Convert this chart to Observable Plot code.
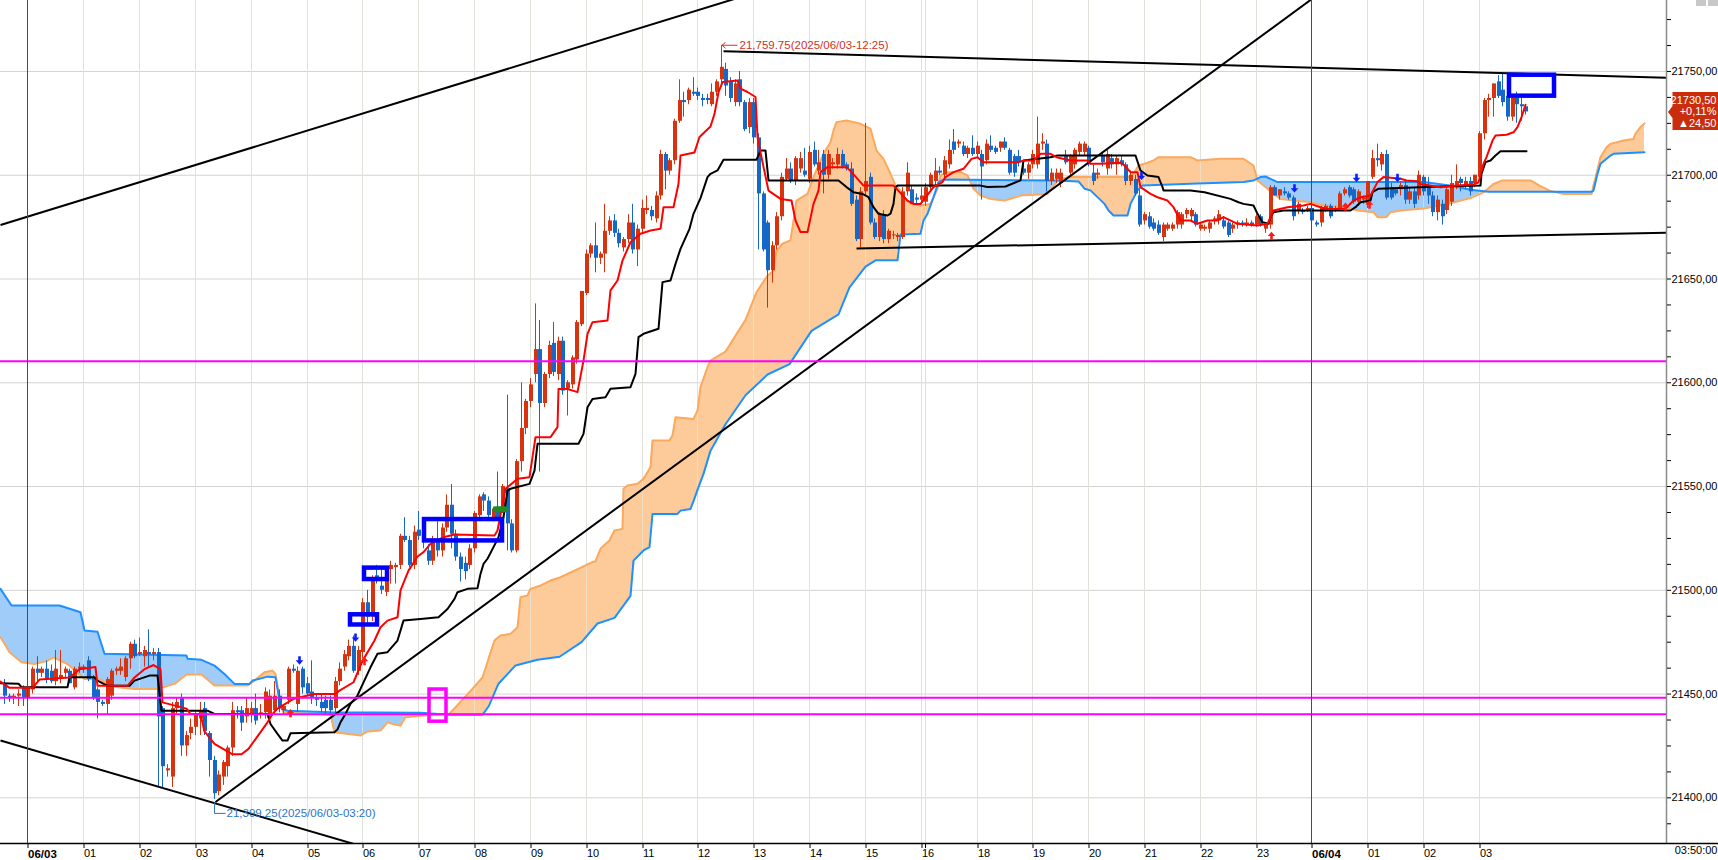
<!DOCTYPE html>
<html><head><meta charset="utf-8">
<script src="https://cdn.jsdelivr.net/npm/d3@7"></script>
<script src="https://cdn.jsdelivr.net/npm/@observablehq/plot@0.6"></script>
<style>
body{margin:0;background:#fff;}
#chart{position:relative;width:1718px;height:860px;overflow:hidden;background:#fff;}
.ico{position:absolute;top:0;width:10px;height:6px;background:#c8c8c8;}
</style></head><body><div id="chart"></div>
<script>
// ---------- candles (5-minute bars, index 0 = 06/03 00:00) ----------
const FIRST = -5;
const opens = [
21455,21449,21448,21449,21453,
21448,21452,21462,21460,21462,21461,21456,21457,21460,21461,21453,21462,
21462,21466,21458,21452,21446,21445,21449,21461,21461,21458,21467,21474,
21469,21468,21470,21469,21470,21443,21413,21410,21443,21448,21425,21431,
21434,21438,21443,21431,21418,21403,21410,21415,21424,21442,21442,21439,
21440,21443,21440,21441,21440,21442,21449,21442,21447,21462,21445,21462,
21455,21451,21448,21446,21447,21447,21443,21456,21463,21468,21473,21461,
21470,21494,21487,21507,21502,21499,21510,21511,21512,21526,21524,21512,
21529,21524,21519,21514,21523,21519,21530,21541,21527,21516,21513,21512,
21520,21536,21546,21543,21535,21539,21539,21549,21532,21519,21562,21578,
21591,21604,21616,21590,21604,21619,21604,21620,21597,21599,21611,21628,
21643,21662,21666,21660,21662,21673,21678,21672,21665,21669,21677,21664,
21674,21683,21683,21679,21690,21710,21702,21707,21726,21736,21736,21740,
21740,21737,21737,21734,21740,21746,21751,21745,21735,21746,21735,21723,
21735,21718,21691,21677,21654,21666,21680,21698,21703,21697,21703,21702,
21698,21712,21702,21710,21700,21705,21705,21710,21705,21703,21688,21669,
21692,21699,21677,21670,21681,21669,21671,21670,21670,21692,21693,21689,
21688,21687,21694,21697,21702,21700,21705,21716,21715,21714,21710,21713,
21710,21710,21707,21714,21713,21713,21716,21712,21709,21709,21703,21701,
21705,21705,21715,21715,21697,21698,21696,21709,21701,21705,21711,21711,
21713,21701,21700,21709,21703,21708,21705,21707,21705,21697,21698,21690,
21678,21680,21677,21676,21670,21674,21674,21676,21676,21681,21680,21681,
21674,21674,21674,21678,21678,21678,21677,21674,21676,21677,21676,21677,
21676,21680,21674,21676,21694,21690,21692,21691,21689,21683,21683,21683,
21684,21677,21677,21683,21685,21683,21684,21691,21694,21693,21687,21688,
21686,21699,21708,21705,21710,21694,21693,21693,21695,21688,21692,21690,
21699,21694,21690,21682,21686,21683,21687,21695,21698,21695,21697,21696,
21699,21720,21736,21737,21745,21741,21738,21728,21737,21734,21733];
const highs = [
21457,21450,21450,21452,21454,
21456,21463,21468,21463,21466,21464,21471,21471,21463,21462,21463,21465,
21464,21468,21459,21453,21447,21458,21462,21463,21467,21468,21475,21476,
21477,21473,21481,21472,21472,21444,21416,21446,21448,21450,21432,21438,
21442,21446,21446,21432,21420,21413,21418,21425,21446,21444,21444,21448,
21446,21450,21445,21453,21452,21456,21452,21445,21463,21464,21463,21463,
21458,21466,21450,21450,21449,21449,21458,21465,21471,21476,21478,21473,
21496,21500,21507,21512,21510,21508,21514,21513,21527,21535,21526,21531,
21538,21530,21522,21526,21533,21532,21546,21551,21529,21518,21516,21522,
21538,21546,21547,21545,21540,21557,21551,21594,21534,21563,21600,21592,
21602,21638,21630,21605,21620,21629,21622,21622,21601,21613,21630,21644,
21664,21667,21677,21663,21686,21680,21681,21674,21670,21681,21686,21676,
21688,21690,21685,21692,21712,21711,21708,21727,21746,21740,21742,21747,
21742,21739,21739,21744,21746,21759.75,21754,21747,21746,21750,21736,21737,
21737,21720,21692,21678,21668,21682,21701,21708,21706,21709,21711,21713,
21714,21716,21712,21712,21712,21708,21713,21712,21706,21706,21690,21694,
21725,21701,21679,21682,21683,21674,21673,21672,21694,21706,21695,21691,
21694,21696,21701,21708,21704,21709,21717,21722,21717,21716,21714,21719,
21716,21712,21717,21719,21714,21716,21718,21713,21710,21712,21707,21706,
21712,21728,21720,21717,21703,21703,21703,21712,21710,21713,21716,21716,
21714,21705,21703,21711,21712,21710,21709,21709,21706,21702,21700,21693,
21682,21682,21679,21678,21677,21677,21677,21683,21682,21684,21684,21682,
21677,21676,21678,21680,21683,21680,21678,21677,21678,21678,21679,21678,
21681,21681,21677,21695,21695,21693,21694,21692,21690,21687,21684,21685,
21685,21678,21685,21686,21686,21685,21692,21694,21695,21694,21693,21690,
21697,21712,21715,21711,21712,21696,21694,21697,21697,21694,21694,21702,
21700,21699,21692,21690,21688,21694,21700,21705,21699,21699,21699,21700,
21721,21737,21739,21744,21748,21749,21740,21738,21740,21739,21734];
const lows = [
21445,21446,21445,21444,21444,
21446,21450,21456,21458,21455,21455,21454,21455,21458,21455,21452,21460,
21460,21456,21447,21438,21444,21440,21447,21459,21459,21456,21462,21467,
21468,21463,21463,21466,21405,21405,21410,21405,21440,21420,21420,21428,
21430,21430,21430,21410,21399.25,21401,21406,21410,21420,21438,21432,21436,
21436,21435,21438,21438,21436,21440,21441,21440,21445,21460,21441,21450,
21449,21445,21444,21441,21440,21440,21440,21454,21461,21466,21460,21459,
21467,21484,21485,21503,21498,21497,21503,21503,21510,21523,21511,21510,
21524,21520,21512,21512,21516,21516,21528,21520,21514,21504,21505,21510,
21518,21535,21538,21535,21533,21534,21537,21519,21518,21518,21557,21575,
21588,21600,21557,21588,21602,21603,21601,21594,21584,21597,21609,21627,
21642,21660,21653,21657,21653,21671,21670,21665,21663,21667,21662,21656,
21672,21681,21678,21677,21688,21693,21700,21705,21725,21728,21734,21738,
21736,21733,21734,21733,21738,21744,21738,21735,21733,21733,21721,21720,
21715,21664,21663,21636,21648,21664,21678,21697,21696,21695,21701,21699,
21696,21704,21700,21691,21698,21703,21703,21703,21702,21685,21668,21665,
21690,21676,21669,21668,21667,21667,21669,21668,21669,21690,21686,21686,
21686,21685,21692,21695,21700,21698,21703,21710,21713,21709,21708,21709,
21708,21688,21705,21711,21710,21711,21712,21700,21699,21704,21700,21698,
21703,21703,21712,21692,21695,21696,21694,21705,21699,21703,21709,21709,
21704,21695,21698,21704,21700,21703,21700,21704,21695,21695,21690,21675,
21676,21674,21673,21671,21668,21673,21673,21674,21674,21679,21678,21675,
21673,21673,21672,21676,21676,21674,21670,21672,21674,21675,21675,21675,
21675,21675,21672,21674,21690,21688,21690,21688,21678,21681,21681,21682,
21677,21675,21675,21682,21679,21682,21683,21690,21689,21686,21685,21686,
21684,21698,21704,21702,21688,21688,21690,21690,21686,21686,21684,21688,
21690,21686,21680,21678,21676,21681,21685,21693,21692,21693,21690,21694,
21697,21717,21728,21728,21737,21733,21726,21726,21725,21726,21729];
const closes = [
21449,21448,21449,21450,21448,
21453,21462,21460,21462,21457,21456,21462,21459,21462,21455,21462,21463,
21463,21457,21448,21446,21445,21457,21461,21462,21463,21467,21474,21468,
21470,21471,21469,21470,21439,21415,21414,21443,21446,21425,21430,21434,
21440,21442,21432,21418,21402,21411,21417,21424,21442,21441,21436,21443,
21443,21437,21441,21451,21449,21449,21443,21444,21462,21461,21461,21453,
21450,21448,21447,21443,21443,21442,21456,21462,21469,21473,21461,21471,
21494,21487,21506,21505,21500,21506,21512,21512,21526,21524,21512,21528,
21526,21527,21514,21524,21519,21530,21541,21527,21516,21510,21509,21520,
21537,21545,21543,21536,21539,21535,21550,21532,21519,21562,21578,21591,
21599,21616,21590,21604,21618,21605,21620,21596,21600,21612,21629,21644,
21662,21666,21660,21662,21673,21678,21672,21667,21669,21677,21664,21674,
21684,21684,21680,21690,21710,21702,21707,21726,21736,21735,21741,21739,
21738,21736,21736,21740,21745,21752,21743,21737,21744,21735,21722,21735,
21718,21691,21664,21654,21666,21680,21699,21703,21697,21708,21708,21700,
21711,21705,21706,21700,21710,21706,21710,21704,21703,21686,21669,21692,
21697,21677,21670,21681,21669,21673,21671,21671,21692,21701,21686,21688,
21690,21694,21700,21702,21701,21707,21712,21712,21716,21710,21713,21710,
21714,21704,21715,21712,21711,21716,21713,21701,21701,21706,21701,21705,
21710,21715,21716,21697,21701,21701,21701,21706,21709,21712,21715,21715,
21705,21697,21701,21706,21710,21705,21708,21705,21697,21700,21691,21676,
21681,21675,21674,21672,21676,21676,21676,21682,21681,21683,21683,21676,
21676,21675,21677,21679,21681,21675,21671,21676,21677,21676,21677,21676,
21680,21676,21676,21694,21690,21693,21691,21689,21680,21686,21682,21684,
21678,21676,21684,21685,21680,21684,21691,21693,21690,21687,21692,21689,
21697,21708,21707,21710,21689,21689,21691,21695,21688,21692,21686,21700,
21692,21690,21682,21688,21680,21693,21696,21697,21696,21697,21692,21700,
21720,21736,21737,21744,21738,21735,21728,21737,21734,21733,21730.5];

// ---------- Ichimoku lines, [bar index, value] ----------
const tenkan = [[-5.9,21456],[-4,21453],[1,21453],[2.5,21457],[9,21458],[11,21462],[14.5,21463],[15,21454],[21.5,21454],[23,21458],[25,21462],[27,21464],[28.4,21462],[29,21446],[34,21443],[35,21440.4],[37,21440.4],[38,21432],[40,21426],[44,21421],[46,21421],[47.5,21423.6],[51.5,21436.4],[52.6,21440.4],[53.6,21443],[57,21447.7],[61.5,21450],[66,21450],[67,21451.7],[70,21455.7],[72,21466],[74.4,21475.8],[75.8,21482.2],[77.2,21485.4],[79.4,21487],[80.1,21500],[81.7,21509.5],[83.7,21516.3],[85.1,21518.4],[86.5,21522.4],[89.4,21525.6],[91.6,21526.9],[100.2,21526.4],[100.9,21528.8],[102.7,21548.9],[105.2,21553.7],[107.9,21554.5],[109.1,21573.8],[112.3,21573.8],[113.8,21578.6],[114.1,21597],[115.9,21597],[118.1,21595.5],[119.5,21610.7],[120.2,21623.6],[121.3,21629.2],[124.5,21630],[125.2,21644.5],[126.7,21649.3],[127.7,21658.9],[129.5,21667.7],[131.7,21671.8],[133.8,21673.4],[135.9,21674.2],[136.7,21684.6],[138.8,21684.6],[139.8,21695.9],[140.3,21709.5],[143.3,21711],[144.3,21718.4],[146.7,21723.5],[147.5,21729.6],[148.5,21740],[149.3,21744.9],[152.5,21745.7],[153.2,21741.7],[154.6,21740.1],[156.4,21737.7],[156.8,21718.4],[157.5,21711],[159.2,21692.6],[161.7,21688.6],[164.2,21687.8],[165,21678.2],[166,21672.6],[167.5,21672.6],[168.9,21686.2],[170,21692.6],[170.3,21701.5],[171.8,21703.9],[176,21703.9],[177.1,21701.5],[179.7,21695],[186.1,21695],[189,21687.8],[190.4,21686.2],[191.8,21686.2],[194.7,21694.3],[196.5,21696.7],[197.2,21699.1],[199,21701.5],[201.1,21703.1],[202.9,21707.9],[204,21708.7],[205.4,21706.3],[212.6,21706.3],[214.1,21707.1],[216.2,21707.1],[217.6,21710.3],[219.8,21710.3],[221,21708.7],[224.1,21707.1],[227.7,21707.1],[228.4,21705.5],[230.5,21705.5],[234.8,21706],[235.6,21704.7],[237,21701.5],[238.4,21701.5],[239.1,21694.3],[241.3,21691],[242.7,21689.4],[244.9,21687.8],[246.3,21684.6],[247.7,21678.2],[249.9,21678.2],[251.3,21676.6],[253.5,21678.2],[255.6,21678.2],[257,21679.8],[259.9,21676.6],[264.2,21675.8],[266.4,21676.6],[267.8,21683],[270.7,21684.6],[274.2,21685.4],[275.7,21686.2],[277.8,21684.6],[279.3,21683.8],[283.2,21683.8],[285,21687.8],[286.4,21689.4],[288.6,21690.2],[290,21696.7],[291.4,21699.1],[295,21698.3],[296.4,21697.5],[298.6,21697.1],[299.3,21695.8],[303.6,21694.2],[307.2,21695],[310.8,21695.5],[311.8,21696.6],[312.9,21705.5],[313.6,21708.7],[314.7,21716.7],[315.4,21719.1],[317.9,21719.5],[319.4,21720.7],[320.1,21723.2],[321.1,21728],[322,21734]];
const kijun = [[-5.9,21455.2],[-2.1,21455],[-1.4,21453.3],[8.6,21453.3],[8.9,21458.1],[14.3,21458.1],[15,21456.5],[17.2,21454],[21.8,21454],[22.9,21456.5],[26.1,21458.9],[27.9,21458.9],[28.6,21442],[38.6,21442],[40.1,21440.4],[51.5,21440.4],[52.2,21435.6],[53.6,21430.8],[54.7,21427.6],[55.8,21427.6],[56.5,21431.1],[65.8,21431.6],[66.5,21433],[67.2,21436.4],[68.3,21440.4],[69.4,21445.3],[70.8,21449.3],[71.5,21452.5],[73.7,21462.9],[75.1,21469.4],[77.3,21470.2],[79.4,21475.8],[80.8,21485.4],[84.4,21486.2],[88.3,21487],[90.1,21491],[91.6,21495.9],[92.3,21499.1],[94.4,21500.7],[96.6,21501],[97.3,21507.9],[98,21512.7],[98.7,21515.2],[100.1,21520.8],[101.2,21525.6],[102.3,21535.2],[103,21548],[103.7,21548.9],[107.7,21551.3],[108.8,21557.7],[109.5,21570.6],[118.4,21570.6],[119.5,21575.4],[120.2,21588.2],[121.3,21592.2],[124.2,21593],[125.2,21597.1],[129.5,21597.9],[130.6,21604.3],[131.3,21622],[132.4,21623.6],[135.6,21626],[136.3,21648.5],[138.1,21649.3],[139.2,21657.3],[140.3,21664.5],[142.1,21674.2],[143.1,21681.4],[144.6,21689],[146,21699.1],[146.7,21700.7],[148.2,21702.3],[149.4,21707.5],[156.7,21707.5],[157.4,21711.9],[158.5,21711.9],[159.2,21697.5],[174.3,21697.5],[176,21694.3],[177.5,21691.8],[179.3,21691],[180.7,21689.4],[181.8,21684.6],[182.9,21681.4],[184.7,21680.6],[185.4,21681.5],[186.1,21686.2],[186.5,21694.3],[186.8,21695],[204.7,21695],[206.2,21694.3],[210.1,21694.6],[213.3,21697.5],[214,21707.1],[219.8,21708.7],[221.2,21709.5],[238.1,21709.5],[239.1,21702.3],[240.6,21699.9],[243.1,21699.1],[243.9,21694.3],[244.1,21692.7],[249.9,21692.7],[252.8,21691.8],[258.5,21688.6],[260.3,21687],[261.3,21686.2],[263.5,21685.4],[264.2,21681.4],[265.3,21677.4],[266.7,21676.6],[267.1,21679.8],[267.8,21682.2],[269.9,21683],[284.3,21683],[285.4,21684.6],[286.4,21687],[288.6,21687.8],[289,21691.8],[290.4,21693.5],[303.6,21694.6],[312.2,21695],[312.5,21700.7],[313.3,21706.3],[314.3,21707.1],[315.4,21709.5],[316.5,21711.6],[322.2,21711.6]];
const senkouA = [[-5.9,21477.4],[-3.9,21470.2],[-1.4,21465.3],[1.4,21464.5],[4.3,21466.1],[5.4,21467.7],[8.6,21464.5],[12.2,21457.3],[15.7,21457],[17.9,21453.6],[22.9,21452.5],[27.9,21452.5],[31.5,21454.9],[34,21459.4],[37.2,21459.4],[40.1,21454.1],[47.2,21454.1],[48.6,21456.5],[50.8,21460.5],[52.6,21461.3],[53.3,21459.7],[54.3,21445],[55,21441],[61,21440.5],[65,21440],[65.8,21431.6],[71.5,21430],[73,21432],[75.8,21432.4],[77.3,21436.4],[78.7,21435.3],[80.1,21434.8],[81.2,21438.8],[84.4,21439.6],[90.7,21440.5],[95.4,21452],[97.7,21458],[100.2,21475.8],[101.6,21478.2],[103.7,21479],[105.2,21482.2],[105.9,21496.7],[107.3,21497.5],[108,21500.7],[110.2,21502.3],[112.3,21504.7],[114.5,21506.3],[121.3,21513.6],[122,21514],[123.1,21520],[124.9,21524],[126,21528.8],[127.7,21529.6],[128.1,21548.9],[128.8,21550.5],[131,21551.3],[132.4,21553.7],[133.8,21559.3],[134.2,21572.2],[137.8,21572.2],[138.5,21574.6],[139.2,21583.4],[143.1,21582.6],[143.9,21586.6],[144.6,21597.9],[146,21607.5],[146.7,21610.7],[150,21615],[154.2,21630.3],[156.6,21643.6],[158.9,21651.6],[160.3,21654],[161,21663.7],[162.1,21667],[163.9,21668.6],[165.3,21687.8],[167.5,21691],[168.9,21699.1],[171.1,21710.3],[172.5,21715.9],[173.2,21721.6],[173.9,21725.6],[176,21726.4],[178.9,21724.8],[181.1,21722.4],[182.5,21711.9],[183.9,21707.9],[185.4,21700.7],[186.5,21695.1],[187.5,21692.6],[188.2,21689.4],[189.7,21686.2],[191.8,21685.4],[194,21686.2],[195.4,21693.5],[196.1,21699.9],[197.6,21701.5],[200.4,21701.5],[201.9,21699.9],[203.3,21693.5],[204.7,21690.2],[206.9,21688.6],[209.8,21687.8],[213.3,21690.2],[219.1,21691],[221.2,21697.5],[223.4,21699.1],[237,21699.1],[237.7,21700.7],[238.8,21704.7],[239.9,21705.5],[242,21707.1],[243.1,21708.7],[249.9,21708.7],[251.3,21707.1],[256.3,21707.9],[261.3,21707.9],[263.5,21704.7],[264.2,21697.5],[266.4,21693.5],[267.8,21691],[269.2,21688.6],[275.7,21687],[278.5,21685.4],[283.5,21684.6],[285.7,21683],[289.3,21682.2],[290,21679.8],[292.1,21679.8],[292.9,21682.2],[295,21683],[300,21684],[305,21686],[310,21689],[313,21692],[315,21695.8],[317,21697.5],[323,21697.5],[325,21695],[327,21692.6],[330,21691],[336,21691],[338,21708.7],[339.4,21713.5],[340.1,21715.1],[343,21716.7],[345.1,21717.5],[345.5,21720],[346.6,21723.2],[347.5,21725]];
const senkouB = [[-5.9,21500.7],[-3.6,21492.7],[6.8,21492.7],[11.4,21489.4],[12.2,21480.6],[14.9,21480],[16.5,21469.4],[34,21468.6],[34.3,21467],[37.2,21466.5],[40.1,21463.7],[42.2,21459.7],[44.3,21454.9],[47.6,21454.9],[48.3,21456.5],[51.5,21458.4],[53.3,21458.1],[54,21446.9],[54.4,21442.9],[55.8,21442],[65.1,21441.2],[84.4,21441],[90.7,21440],[97.7,21440],[98.9,21444],[101.2,21455],[104.8,21463.8],[109.5,21466.5],[114.2,21468],[118.9,21475],[122.4,21484],[126,21486.7],[129.5,21497.3],[130.2,21514.3],[132.4,21519.2],[133.5,21520.8],[134.2,21536.8],[139.6,21536.8],[140.3,21538.4],[142.4,21539.2],[143.1,21543],[144.2,21549.7],[145.3,21556.1],[146.7,21567.3],[150,21580],[154.2,21594],[158.9,21604],[163.6,21609],[168.4,21625],[174.2,21633],[176.6,21646],[180.1,21656],[182.2,21659],[186.8,21659],[187.5,21671.4],[191.8,21671.8],[192.5,21678.2],[193.3,21681.4],[194.7,21689.4],[195.8,21696.7],[196.8,21697.9],[221.2,21697.5],[225.9,21697],[227,21693.5],[228.4,21692.7],[231.3,21686.2],[232.3,21683],[233.4,21680.6],[236.3,21680.6],[237,21686.2],[238.4,21692.7],[239.5,21695.1],[249.9,21695.9],[261.3,21696.7],[263.5,21697.5],[264.9,21699.1],[266,21699.4],[267.4,21698],[268.5,21696.7],[295,21696.7],[300,21696.7],[306,21695],[310,21693],[314,21692],[336,21692],[336.5,21692.6],[337.3,21700.7],[338,21705.5],[340.1,21709.5],[340.8,21710.3],[347.5,21711.1]];

// ---------- drawn objects ----------
const trendLines = [
  {x1:-5.9, y1:21676,   x2:160,   y2:21790.6},
  {x1:-5.9, y1:21427.6, x2:80,    y2:21371.2},
  {x1:40.3, y1:21398,   x2:280,   y2:21791.5},
  {x1:149.4,y1:21759.8, x2:352.2, y2:21747},
  {x1:178.2,y1:21664.7, x2:352.2, y2:21672.3}
];
const magentaLevels = [21610.4, 21448.2, 21440.3];
const blueBoxes = [
  {x1:69.3, x2:75.2, y1:21483.3, y2:21488.2},
  {x1:72.4, x2:77.2, y1:21505.2, y2:21510.7},
  {x1:85.2, x2:102.1, y1:21523.8, y2:21534.1},
  {x1:318.4,x2:328.1, y1:21738.1, y2:21748.2}
];
const magentaBoxes = [{x1:86.3, x2:90, y1:21436.7, y2:21452.2}];
const greenMark = [{x1:100.6, x2:102.7, y:21539}];
const downArrows = [{i:58.4,v:21466},{i:70.5,v:21477},{i:239.3,v:21699.5},{i:272.2,v:21693.5},{i:285.5,v:21698.5},{i:294.4,v:21698.5}];
const upArrows = [{i:56.4,v:21441},{i:72.3,v:21466},{i:267.4,v:21671},{i:283.2,v:21685},{i:288.3,v:21686}];
const highMark = [{i:149, v:21759.75, t:"21,759.75(2025/06/03-12:25)"}];
const lowMark = [{i:40, v:21399.25, t:"21,399.25(2025/06/03-03:20)"}];
const priceTag = ["21730,50", "+0,11%", "▲24,50"];

// ---------- axes ----------
const hourTicks  = [0,12,24,36,48,60,72,84,96,108,120,132,144,156,168,180,192,204,216,228,240,252,264,276,288,300,312];
const hourLabels = ["06/03","01","02","03","04","05","06","07","08","09","10","11","12","13","14","15","16","18","19","20","21","22","23","06/04","01","02","03"];
const extraTicks = [193];
const dayBreaks = [0, 276];
const yTicks = [21400,21450,21500,21550,21600,21650,21700,21750];
const yTickLabels = ["21400,00","21450,00","21500,00","21550,00","21600,00","21650,00","21700,00","21750,00"];
const lastTimeLabel = "03:50:00";

// ---------- build ----------
const W = 1718, H = 860, MR = 52, MB = 17;
const xDomain = [-5.9, 352.2];
const yDomain = [21378, 21784.2];
const pxPerIdx = (W - MR) / (xDomain[1] - xDomain[0]);
const FONT = "'Liberation Sans',Arial,sans-serif";

const candles = opens.map((o, k) => ({i: FIRST + k, o, h: highs[k], l: lows[k], c: closes[k]}));
const upC = "#d8320e", dnC = "#1668c8";
const cColor = d => d.c >= d.o ? upC : dnC;
const bLo = d => { const a = Math.min(d.o, d.c), b = Math.max(d.o, d.c); return b - a < 0.5 ? (a + b) / 2 - 0.25 : a; };
const bHi = d => { const a = Math.min(d.o, d.c), b = Math.max(d.o, d.c); return b - a < 0.5 ? (a + b) / 2 + 0.25 : b; };

const fA = d3.scaleLinear().domain(senkouA.map(p => p[0])).range(senkouA.map(p => p[1])).clamp(true);
const fB = d3.scaleLinear().domain(senkouB.map(p => p[0])).range(senkouB.map(p => p[1])).clamp(true);
const cloudGrid = d3.range(-5.9, 347.5 + 1e-9, 0.1).map(x => ({x, a: fA(x), b: fB(x)}));

const labelOf = new Map(hourTicks.map((t, k) => [t, hourLabels[k]]));
const dateTicks = hourTicks.filter(t => labelOf.get(t).includes("/"));
const plainTicks = hourTicks.filter(t => !labelOf.get(t).includes("/"));
const yLabelOf = new Map(yTicks.map((t, k) => [t, yTickLabels[k]]));
const yMinor = d3.range(yDomain[0] + 9.5, yDomain[1], 12.5).filter(v => !yTicks.includes(v));

const gridColor = "#d3d3d3";
const arrowDown = {draw(c){c.moveTo(-1.3,-4.5);c.lineTo(1.3,-4.5);c.lineTo(1.3,-0.5);c.lineTo(3.8,-0.5);c.lineTo(0,3.8);c.lineTo(-3.8,-0.5);c.lineTo(-1.3,-0.5);c.closePath();}};
const arrowUp = {draw(c){c.moveTo(-1.3,4.5);c.lineTo(1.3,4.5);c.lineTo(1.3,0.5);c.lineTo(3.8,0.5);c.lineTo(0,-3.8);c.lineTo(-3.8,0.5);c.lineTo(-1.3,0.5);c.closePath();}};
const highElbow = {draw(c){c.moveTo(0,0);c.lineTo(0,-6);c.lineTo(16,-6);c.moveTo(4,-9);c.lineTo(0.5,-6);c.lineTo(4,-3);}};
const lowElbow = {draw(c){c.moveTo(0,3);c.lineTo(0,14);c.lineTo(11,14);}};
const tagShape = {draw(c){c.moveTo(1.5,0);c.lineTo(6,-6);c.lineTo(6,-20);c.lineTo(52,-20);c.lineTo(52,18);c.lineTo(6,18);c.lineTo(6,6);c.closePath();}};

const lastClose = closes[closes.length - 1];

const chart = Plot.plot({
  width: W, height: H,
  marginLeft: 0, marginRight: MR, marginTop: 0, marginBottom: MB,
  x: {domain: xDomain, axis: null, round: true},
  y: {domain: yDomain, axis: null},
  style: {fontFamily: FONT, fontSize: "11px", background: "white", color: "black", overflow: "visible"},
  marks: [
    Plot.ruleY(yTicks, {stroke: gridColor}),
    Plot.ruleX(hourTicks.concat(extraTicks), {stroke: gridColor}),
    Plot.areaY(cloudGrid, {x: "x", y1: "b", y2: d => Math.max(d.a, d.b), fill: "#fdcb99", clip: true}),
    Plot.areaY(cloudGrid, {x: "x", y1: "a", y2: d => Math.max(d.a, d.b), fill: "#9fccf9", clip: true}),
    Plot.ruleX(hourTicks.concat(extraTicks), {stroke: "#e8efe0", strokeOpacity: 0.55}),
    Plot.line(senkouA, {x: d => d[0], y: d => d[1], stroke: "#fba95e", strokeWidth: 2, clip: true}),
    Plot.line(senkouB, {x: d => d[0], y: d => d[1], stroke: "#1e8fff", strokeWidth: 2, clip: true}),
    Plot.ruleX(candles, {x: "i", y1: "l", y2: "h", stroke: cColor, strokeWidth: 1, clip: true}),
    Plot.ruleX(candles, {x: "i", y1: bLo, y2: bHi, stroke: cColor, strokeWidth: 4, dx: 0.5, clip: true}),
    Plot.link(trendLines, {x1: "x1", y1: "y1", x2: "x2", y2: "y2", stroke: "black", strokeWidth: 2, clip: true}),
    Plot.line(kijun, {x: d => d[0], y: d => d[1], stroke: "black", strokeWidth: 2, clip: true}),
    Plot.line(tenkan, {x: d => d[0], y: d => d[1], stroke: "#ff0000", strokeWidth: 2, clip: true}),
    Plot.ruleY(magentaLevels, {stroke: "#ff00ff", strokeWidth: 2}),
    Plot.ruleX(dayBreaks, {stroke: "#ff0000", strokeWidth: 1}),
    Plot.rect(blueBoxes, {x1: "x1", x2: "x2", y1: "y1", y2: "y2", fill: "none", stroke: "#0000ff", strokeWidth: 4.5}),
    Plot.rect(magentaBoxes, {x1: "x1", x2: "x2", y1: "y1", y2: "y2", fill: "none", stroke: "#ff00ff", strokeWidth: 3.5}),
    Plot.link(greenMark, {x1: "x1", x2: "x2", y1: "y", y2: "y", stroke: "#1e8c1e", strokeWidth: 6, strokeLinecap: "round"}),
    Plot.dot(downArrows, {x: "i", y: "v", symbol: arrowDown, fill: "#0a1eff", stroke: "none"}),
    Plot.dot(upArrows, {x: "i", y: "v", symbol: arrowUp, fill: "#ff1a1a", stroke: "none"}),
    Plot.dot(highMark, {x: "i", y: "v", symbol: highElbow, fill: "none", stroke: "#d2321c", strokeWidth: 1}),
    Plot.text(highMark, {x: "i", y: "v", text: "t", dx: 18, dy: -6, textAnchor: "start", fill: "#d2321c", fontSize: 11.5}),
    Plot.dot(lowMark, {x: "i", y: "v", symbol: lowElbow, fill: "none", stroke: "#2a73c9", strokeWidth: 1}),
    Plot.text(lowMark, {x: "i", y: "v", text: "t", dx: 12, dy: 14, textAnchor: "start", fill: "#2a73c9", fontSize: 11.5}),
    Plot.ruleX([xDomain[1]], {stroke: "#8a8a8a", strokeWidth: 1.5}),
    Plot.ruleY([yDomain[0]], {x1: xDomain[0], x2: xDomain[1] + MR / pxPerIdx, stroke: "black", strokeWidth: 1.5}),
    Plot.axisY(yTicks, {anchor: "right", tickSize: 4, tickPadding: 1, tickFormat: d => yLabelOf.get(d), fontSize: 11}),
    Plot.axisY(yMinor, {anchor: "right", tickSize: 4, tickFormat: () => ""}),
    Plot.axisX(plainTicks, {anchor: "bottom", tickSize: 5, tickPadding: 1, tickFormat: d => labelOf.get(d), textAnchor: "start", dx: 0.5, fontSize: 11}),
    Plot.axisX(dateTicks, {anchor: "bottom", tickSize: 5, tickPadding: 1, tickFormat: d => labelOf.get(d), textAnchor: "start", dx: 0.5, fontSize: 11.5, fontWeight: "bold"}),
    Plot.axisX(extraTicks, {anchor: "bottom", tickSize: 5, tickFormat: () => ""}),
    Plot.text([lastTimeLabel], {frameAnchor: "bottom-right", dx: 51, dy: 10, textAnchor: "end", fontSize: 11}),
    Plot.dot([{x: xDomain[1], y: lastClose}], {x: "x", y: "y", symbol: tagShape, fill: "#c92d0c", stroke: "none"}),
    Plot.text([{x: xDomain[1], y: lastClose, t: priceTag.join("\n")}], {x: "x", y: "y", text: "t", dx: 50, dy: -0.3, textAnchor: "end", lineAnchor: "middle", lineHeight: 1.09, fill: "white", fontSize: 11})
  ]
});
const holder = document.getElementById("chart");
holder.appendChild(chart);
for (const left of [1696, 1708]) {
  const d = document.createElement("div");
  d.className = "ico"; d.style.left = left + "px";
  holder.appendChild(d);
}
</script>
</body></html>
